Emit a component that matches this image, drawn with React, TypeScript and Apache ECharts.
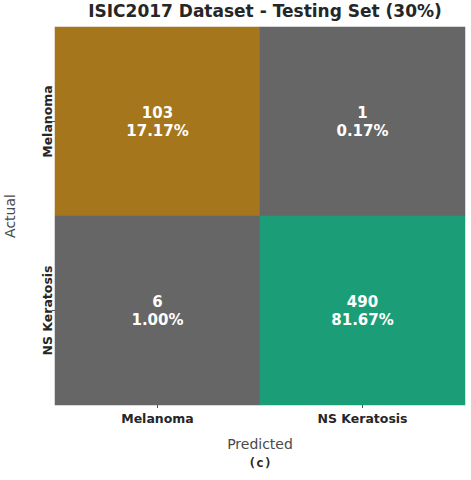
import React, { useEffect, useRef } from "react";
import * as echarts from "echarts";

const predictedLabels = ["Melanoma", "NS Keratosis"];
const actualLabels = ["Melanoma", "NS Keratosis"];
// rows = actual, cols = predicted
const matrix = [
  [103, 1],
  [6, 490],
];
const title = "ISIC2017 Dataset - Testing Set (30%)";
const caption = "(c)";

// reversed Dark2 colormap
const cmap = ["#666666", "#a6761d", "#e6ab02", "#66a61e", "#e7298a", "#7570b3", "#d95f02", "#1b9e77"];

export default function App() {
  const ref = useRef<HTMLDivElement>(null);
  useEffect(() => {
    if (!ref.current) return;
    const chart = echarts.init(ref.current, undefined, { renderer: "svg" });
    const flat = matrix.flat();
    const total = flat.reduce((a, b) => a + b, 0);
    const vmin = Math.min(...flat);
    const vmax = Math.max(...flat);
    const step = (vmax - vmin) / cmap.length;
    const pieces = cmap.map((color, i) => ({
      gte: vmin + i * step,
      lt: i === cmap.length - 1 ? vmax + 1 : vmin + (i + 1) * step,
      color,
    }));
    const data: any[] = [];
    matrix.forEach((row, r) =>
      row.forEach((v, c) => {
        data.push([c, r, v]);
      })
    );
    const font = "DejaVu Sans";
    chart.setOption({
      animation: false,
      backgroundColor: "#ffffff",
      textStyle: { fontFamily: font },
      title: {
        text: title,
        left: 260,
        textAlign: "center",
        top: -3,
        textStyle: { fontFamily: font, fontWeight: "bold", fontSize: 17, color: "#262626" },
      },
      visualMap: {
        type: "piecewise",
        show: false,
        dimension: 2,
        pieces,
      },
      grid: { left: 55, right: 6, top: 27, bottom: 75, containLabel: false, outerBoundsMode: "none" },
      xAxis: {
        type: "category",
        data: predictedLabels,
        name: "Predicted",
        nameLocation: "middle",
        nameGap: 32,
        nameTextStyle: { fontFamily: font, fontSize: 14, color: "#4a4a4a" },
        axisLine: { show: false },
        axisTick: { show: true, alignWithLabel: true, length: 3, lineStyle: { color: "#555" } },
        axisLabel: { fontFamily: font, fontWeight: "bold", fontSize: 12.5, color: "#262626", margin: 7 },
        splitLine: { show: false },
      },
      yAxis: {
        type: "category",
        data: actualLabels,
        inverse: true,
        name: "Actual",
        nameLocation: "middle",
        nameGap: 38,
        nameRotate: 90,
        nameTextStyle: { fontFamily: font, fontSize: 14, color: "#4a4a4a" },
        axisLine: { show: false },
        axisTick: { show: true, alignWithLabel: true, length: 3, lineStyle: { color: "#555" } },
        axisLabel: { fontFamily: font, fontWeight: "bold", fontSize: 12.5, color: "#262626", rotate: 90, margin: 8, verticalAlign: "middle" },
        splitLine: { show: false },
      },
      series: [
        {
          type: "heatmap",
          data,
          label: {
            show: true,
            color: "#ffffff",
            fontFamily: font,
            fontWeight: "bold",
            fontSize: 15,
            lineHeight: 18,
            formatter: (p: any) => {
              const v = p.value[2];
              return `${v}\n${((v / total) * 100).toFixed(2)}%`;
            },
          },
          itemStyle: { borderWidth: 0 },
          emphasis: { disabled: true },
        },
      ],
      graphic: [
        {
          type: "text",
          x: 260,
          y: 462,
          style: { text: caption, font: `bold 13px "DejaVu Sans Mono"`, fill: "#262626", textAlign: "center", textVerticalAlign: "middle" },
        },
      ],
    });
    return () => chart.dispose();
  }, []);
  return <div ref={ref} style={{ position: "fixed", left: 0, top: 0, width: 471, height: 480 }} />;
}
